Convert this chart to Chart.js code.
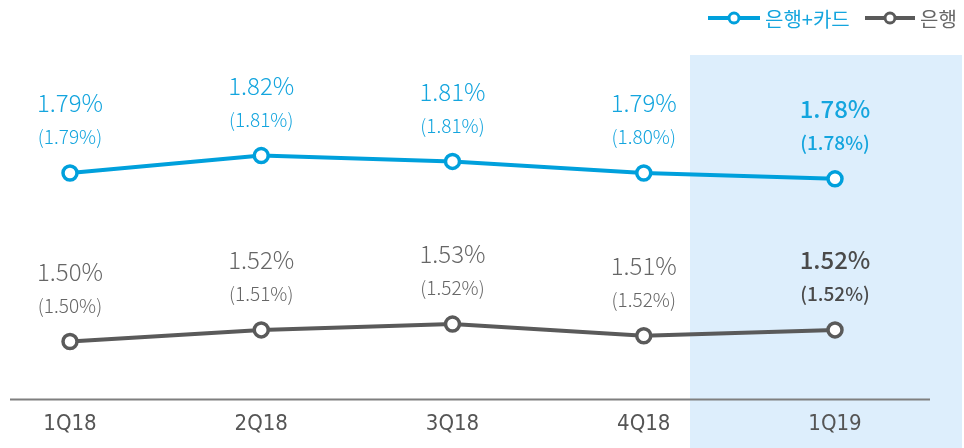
<!DOCTYPE html>
<html>
<head>
<meta charset="utf-8">
<script src="https://cdn.jsdelivr.net/npm/chart.js@4"></script>
<style>
    body { margin: 0; background: #fff; }
    #wrap { width: 964px; height: 448px; position: relative; }
</style>
</head>
<body>
<div id="wrap"><canvas id="nimChart"></canvas></div>
<script>
const quarters = ['1Q18', '2Q18', '3Q18', '4Q18', '1Q19'];
const bankCard = [1.79, 1.82, 1.81, 1.79, 1.78];
const bankCardSub = [1.79, 1.81, 1.81, 1.80, 1.78];
const bank = [1.50, 1.52, 1.53, 1.51, 1.52];
const bankSub = [1.50, 1.51, 1.52, 1.52, 1.52];
const legendNames = ['은행+카드', '은행'];

const BLUE = '#00a0dc';
const GRAY = '#5a5a5a';
const FONT = "'Noto Sans CJK KR', 'Noto Sans', sans-serif";
const TICK_FONT = "'Liberation Sans Narrow', 'DejaVu Sans Condensed', sans-serif";

// light blue box behind the latest quarter + long baseline
const backdrop = {
    id: 'backdrop',
    beforeDraw(chart) {
        const { ctx, chartArea } = chart;
        const x = chart.scales.x.getPixelForValue(quarters.length - 1);
        ctx.save();
        ctx.fillStyle = '#ddeefc';
        ctx.fillRect(x - 145, chartArea.top + 4, chart.width - 2 - (x - 145), chart.height - chartArea.top - 4);
        ctx.strokeStyle = '#7f7f7f';
        ctx.lineWidth = 2;
        ctx.beginPath();
        ctx.moveTo(10, chartArea.bottom);
        ctx.lineTo(930, chartArea.bottom);
        ctx.stroke();
        ctx.restore();
    }
};

// two-row value labels above every point
const valueLabels = {
    id: 'valueLabels',
    afterDatasetsDraw(chart) {
        const { ctx } = chart;
        const subs = [bankCardSub, bankSub];
        ctx.save();
        ctx.textAlign = 'center';
        ctx.textBaseline = 'middle';
        chart.data.datasets.forEach((ds, di) => {
            const meta = chart.getDatasetMeta(di);
            meta.data.forEach((pt, i) => {
                const last = i === quarters.length - 1;
                const main = di === 0 ? '#14a5de' : '#666666';
                ctx.fillStyle = last && di === 1 ? '#4a4a4a' : main;
                ctx.font = (last ? '500 ' : '300 ') + '24px ' + FONT;
                ctx.fillText(ds.data[i].toFixed(2) + '%', pt.x, pt.y - 70);
                ctx.font = (last ? '500 ' : '300 ') + '19px ' + FONT;
                ctx.fillText('(' + subs[di][i].toFixed(2) + '%)', pt.x, pt.y - 36);
            });
        });
        ctx.restore();
    }
};

// legend with line + ring marker, top right
const lineLegend = {
    id: 'lineLegend',
    afterDraw(chart) {
        const { ctx } = chart;
        const items = [
            { x: 708, w: 52, color: BLUE, text: legendNames[0] },
            { x: 865, w: 50, color: GRAY, text: legendNames[1] }
        ];
        ctx.save();
        ctx.font = '20px ' + FONT;
        ctx.textBaseline = 'middle';
        items.forEach(it => {
            const y = 18;
            ctx.strokeStyle = it.color;
            ctx.lineWidth = 4;
            ctx.beginPath();
            ctx.moveTo(it.x, y);
            ctx.lineTo(it.x + it.w, y);
            ctx.stroke();
            ctx.beginPath();
            ctx.arc(it.x + it.w / 2, y, 5, 0, Math.PI * 2);
            ctx.fillStyle = '#fff';
            ctx.fill();
            ctx.lineWidth = 3;
            ctx.stroke();
            ctx.fillStyle = it.color === BLUE ? '#14a5de' : '#666666';
            ctx.fillText(it.text, it.x + it.w + 5, y + 1);
        });
        ctx.restore();
    }
};

new Chart(document.getElementById('nimChart'), {
    type: 'line',
    data: {
        labels: quarters,
        datasets: [
            {
                label: legendNames[0],
                data: bankCard,
                borderColor: BLUE,
                borderWidth: 4,
                pointRadius: 7,
                pointBorderWidth: 3.5,
                pointBackgroundColor: '#fff',
                pointBorderColor: BLUE
            },
            {
                label: legendNames[1],
                data: bank,
                borderColor: GRAY,
                borderWidth: 4,
                pointRadius: 7,
                pointBorderWidth: 3.5,
                pointBackgroundColor: '#fff',
                pointBorderColor: GRAY
            }
        ]
    },
    options: {
        responsive: true,
        maintainAspectRatio: false,
        animation: false,
        layout: { padding: { left: 70, right: 129, top: 51, bottom: 0 } },
        plugins: {
            legend: { display: false },
            tooltip: { enabled: false }
        },
        scales: {
            x: {
                offset: false,
                grid: { display: false, drawTicks: false },
                border: { display: false },
                ticks: {
                    color: '#555555',
                    padding: 11,
                    font: { size: 22, family: TICK_FONT }
                }
            },
            y: {
                display: false,
                min: 1.40,
                max: 2.00
            }
        }
    },
    plugins: [backdrop, valueLabels, lineLegend]
});
</script>
</body>
</html>
